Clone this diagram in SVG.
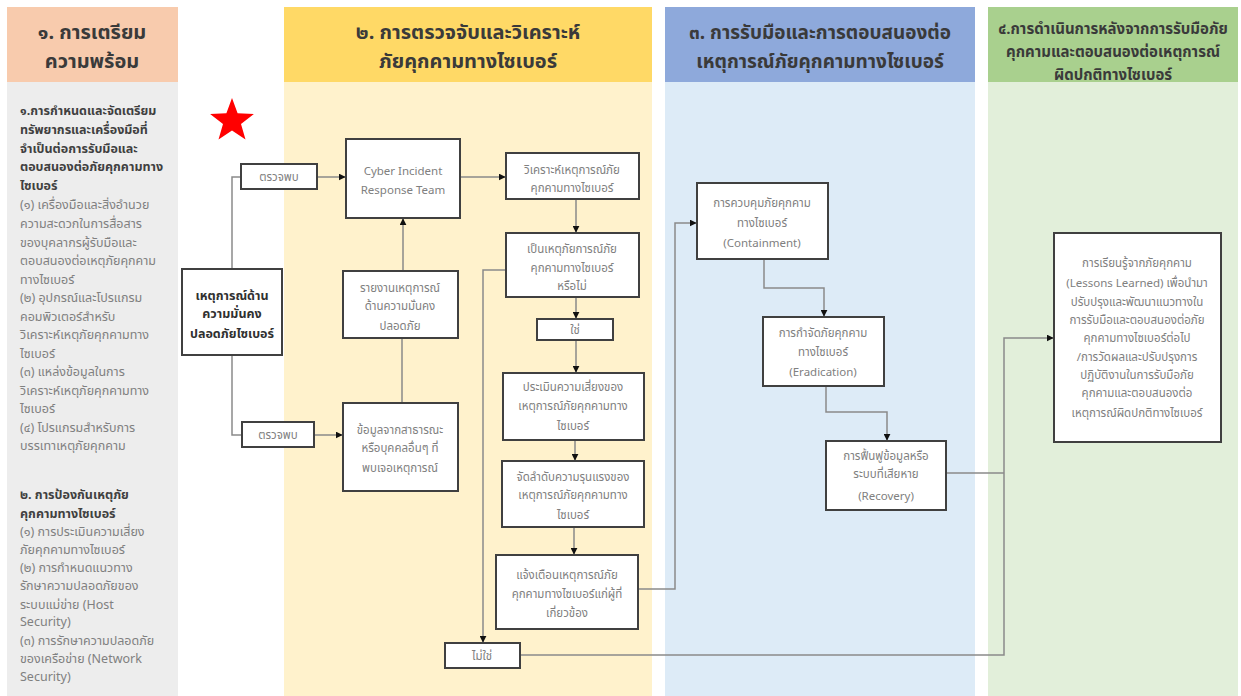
<svg xmlns="http://www.w3.org/2000/svg" width="1241" height="696" viewBox="0 0 1241 696">
<defs>
<marker id="arr" viewBox="0 0 10 10" refX="9" refY="5" markerWidth="7" markerHeight="7" markerUnits="userSpaceOnUse" orient="auto">
<path d="M0,0 L10,5 L0,10 z" fill="#111"/>
</marker>
<style>
.hdr{font-family:"Noto Sans Thai","Noto Sans","DejaVu Sans",sans-serif;font-weight:bold;fill:#3a3a3a;text-anchor:middle}
.side{font-family:"Noto Sans Thai","Noto Sans","DejaVu Sans",sans-serif;font-size:12.5px;fill:#808080}
.sideb{font-family:"Noto Sans Thai","Noto Sans","DejaVu Sans",sans-serif;font-size:12.5px;fill:#404040;font-weight:bold}
.box{fill:#fff;stroke:#404040;stroke-width:2}
.t{font-family:"Noto Sans Thai","Noto Sans","DejaVu Sans",sans-serif;font-size:11.5px;fill:#808080;text-anchor:middle}
.tb{font-family:"Noto Sans Thai","Noto Sans","DejaVu Sans",sans-serif;font-size:12.5px;fill:#303030;font-weight:bold;text-anchor:middle}
.c{fill:none;stroke:#8a8a8a;stroke-width:1.5}
.ca{fill:none;stroke:#8a8a8a;stroke-width:1.5;marker-end:url(#arr)}
</style>
</defs>
<rect width="1241" height="696" fill="#fff"/>
<g id="columns">
<rect x="7" y="82" width="171" height="614" fill="#EDEDED"/>
<rect x="7" y="7" width="171" height="75" fill="#F8CBAD"/>
<rect x="284" y="82" width="368" height="614" fill="#FFF2CC"/>
<rect x="284" y="7" width="368" height="75" fill="#FFD966"/>
<rect x="665" y="82" width="310" height="614" fill="#DDEBF7"/>
<rect x="665" y="7" width="310" height="75" fill="#8EA9DB"/>
<rect x="988" y="82" width="250" height="614" fill="#E2EFDA"/>
<rect x="988" y="7" width="250" height="75" fill="#A9D08E"/>
<text class="hdr" font-size="20" x="92" y="39">๑. การเตรียม</text>
<text class="hdr" font-size="20" x="92" y="68">ความพร้อม</text>
<text class="hdr" font-size="20" x="468" y="39">๒. การตรวจจับและวิเคราะห์</text>
<text class="hdr" font-size="20" x="468" y="68">ภัยคุกคามทางไซเบอร์</text>
<text class="hdr" font-size="19" x="820" y="39">๓. การรับมือและการตอบสนองต่อ</text>
<text class="hdr" font-size="19" x="820" y="68">เหตุการณ์ภัยคุกคามทางไซเบอร์</text>
<text class="hdr" font-size="15" x="1113" y="34">๔.การดำเนินการหลังจากการรับมือภัย</text>
<text class="hdr" font-size="15" x="1113" y="57">คุกคามและตอบสนองต่อเหตุการณ์</text>
<text class="hdr" font-size="15" x="1113" y="80">ผิดปกติทางไซเบอร์</text>
</g>
<g id="preparation-text">
<text class="sideb" x="20" y="115">๑.การกำหนดและจัดเตรียม</text>
<text class="sideb" x="20" y="134">ทรัพยากรและเครื่องมือที่</text>
<text class="sideb" x="20" y="153">จำเป็นต่อการรับมือและ</text>
<text class="sideb" x="20" y="171">ตอบสนองต่อภัยคุกคามทาง</text>
<text class="sideb" x="20" y="190">ไซเบอร์</text>
<text class="side" x="20" y="209">(๑) เครื่องมือและสิ่งอำนวย</text>
<text class="side" x="20" y="228">ความสะดวกในการสื่อสาร</text>
<text class="side" x="20" y="247">ของบุคลากรผู้รับมือและ</text>
<text class="side" x="20" y="265">ตอบสนองต่อเหตุภัยคุกคาม</text>
<text class="side" x="20" y="284">ทางไซเบอร์</text>
<text class="side" x="20" y="302">(๒) อุปกรณ์และโปรแกรม</text>
<text class="side" x="20" y="321">คอมพิวเตอร์สำหรับ</text>
<text class="side" x="20" y="339">วิเคราะห์เหตุภัยคุกคามทาง</text>
<text class="side" x="20" y="358">ไซเบอร์</text>
<text class="side" x="20" y="376">(๓) แหล่งข้อมูลในการ</text>
<text class="side" x="20" y="395">วิเคราะห์เหตุภัยคุกคามทาง</text>
<text class="side" x="20" y="413">ไซเบอร์</text>
<text class="side" x="20" y="432">(๔) โปรแกรมสำหรับการ</text>
<text class="side" x="20" y="450">บรรเทาเหตุภัยคุกคาม</text>
<text class="sideb" x="20" y="499">๒. การป้องกันเหตุภัย</text>
<text class="sideb" x="20" y="518">คุกคามทางไซเบอร์</text>
<text class="side" x="20" y="536">(๑) การประเมินความเสี่ยง</text>
<text class="side" x="20" y="554">ภัยคุกคามทางไซเบอร์</text>
<text class="side" x="20" y="572">(๒) การกำหนดแนวทาง</text>
<text class="side" x="20" y="590">รักษาความปลอดภัยของ</text>
<text class="side" x="20" y="609">ระบบแม่ข่าย (Host</text>
<text class="side" x="20" y="626" font-size="11">Security)</text>
<text class="side" x="20" y="645">(๓) การรักษาความปลอดภัย</text>
<text class="side" x="20" y="663">ของเครือข่าย (Network</text>
<text class="side" x="20" y="681" font-size="11">Security)</text>
</g>
<polygon id="star" points="232,98 237.6,113.3 253.9,113.9 241,123.9 245.5,139.6 232,130.5 218.5,139.6 223,123.9 210.1,113.9 226.4,113.3" fill="#FF0000"/>
<g id="connectors">
<polyline class="c" points="232,269 232,177 241,177"/>
<line class="ca" x1="317" y1="177" x2="345" y2="177"/>
<polyline class="c" points="232,355 232,435 242,435"/>
<line class="ca" x1="314" y1="435" x2="342" y2="435"/>
<line class="c" x1="402" y1="403" x2="402" y2="338"/>
<line class="ca" x1="403" y1="271" x2="403" y2="219"/>
<line class="ca" x1="460" y1="177" x2="505" y2="177"/>
<line class="ca" x1="576" y1="199" x2="576" y2="232"/>
<line class="ca" x1="576" y1="297" x2="576" y2="318"/>
<line class="ca" x1="576" y1="340" x2="576" y2="372"/>
<line class="ca" x1="575" y1="440" x2="575" y2="460"/>
<line class="ca" x1="574" y1="527" x2="574" y2="554"/>
<polyline class="ca" points="506,270 483,270 483,642"/>
<polyline class="ca" points="638,589 675,589 675,223 696,223"/>
<polyline class="ca" points="764,259 764,288 824,288 824,316"/>
<polyline class="ca" points="826,386 826,412 887,412 887,440"/>
<polyline class="c" points="946,473 1004,473"/>
<polyline class="ca" points="520,655 1004,655 1004,338 1053,338"/>
</g>
<g id="n-event">
<rect class="box" x="182" y="269" width="100" height="86"/>
<text class="tb" x="232" y="300">เหตุการณ์ด้าน</text>
<text class="tb" x="232" y="318">ความมั่นคง</text>
<text class="tb" x="232" y="338">ปลอดภัยไซเบอร์</text>
</g>
<g id="n-detect1">
<rect class="box" x="241" y="164" width="76" height="25"/>
<text class="t" x="279" y="181">ตรวจพบ</text>
</g>
<g id="n-detect2">
<rect class="box" x="242" y="422" width="72" height="25"/>
<text class="t" x="278" y="439">ตรวจพบ</text>
</g>
<g id="n-cirt">
<rect class="box" x="346" y="139" width="114" height="79"/>
<text class="t" x="403" y="175">Cyber Incident</text>
<text class="t" x="403" y="194">Response Team</text>
</g>
<g id="n-report">
<rect class="box" x="343" y="271" width="115" height="67"/>
<text class="t" x="400" y="292">รายงานเหตุการณ์</text>
<text class="t" x="400" y="310">ด้านความมั่นคง</text>
<text class="t" x="400" y="330">ปลอดภัย</text>
</g>
<g id="n-public">
<rect class="box" x="343" y="403" width="115" height="88"/>
<text class="t" x="400" y="434">ข้อมูลจากสาธารณะ</text>
<text class="t" x="400" y="452">หรือบุคคลอื่นๆ ที่</text>
<text class="t" x="400" y="472">พบเจอเหตุการณ์</text>
</g>
<g id="n-analyze">
<rect class="box" x="506" y="153" width="133" height="46"/>
<text class="t" x="572" y="174">วิเคราะห์เหตุการณ์ภัย</text>
<text class="t" x="572" y="192">คุกคามทางไซเบอร์</text>
</g>
<g id="n-isthreat">
<rect class="box" x="506" y="233" width="133" height="64"/>
<text class="t" x="572" y="253">เป็นเหตุภัยการณ์ภัย</text>
<text class="t" x="572" y="272">คุกคามทางไซเบอร์</text>
<text class="t" x="572" y="290">หรือไม่</text>
</g>
<g id="n-yes">
<rect class="box" x="537" y="319" width="76" height="21"/>
<text class="t" x="575" y="334">ใช่</text>
</g>
<g id="n-risk">
<rect class="box" x="503" y="373" width="141" height="67"/>
<text class="t" x="573" y="391">ประเมินความเสี่ยงของ</text>
<text class="t" x="573" y="410">เหตุการณ์ภัยคุกคามทาง</text>
<text class="t" x="573" y="430">ไซเบอร์</text>
</g>
<g id="n-priority">
<rect class="box" x="502" y="461" width="142" height="66"/>
<text class="t" x="573" y="481">จัดลำดับความรุนแรงของ</text>
<text class="t" x="573" y="499">เหตุการณ์ภัยคุกคามทาง</text>
<text class="t" x="573" y="519">ไซเบอร์</text>
</g>
<g id="n-notify">
<rect class="box" x="496" y="555" width="142" height="74"/>
<text class="t" x="567" y="579">แจ้งเตือนเหตุการณ์ภัย</text>
<text class="t" x="567" y="598">คุกคามทางไซเบอร์แก่ผู้ที่</text>
<text class="t" x="567" y="617">เกี่ยวข้อง</text>
</g>
<g id="n-no">
<rect class="box" x="445" y="643" width="75" height="25"/>
<text class="t" x="482" y="660">ไม่ใช่</text>
</g>
<g id="n-containment">
<rect class="box" x="697" y="183" width="131" height="76"/>
<text class="t" x="762" y="207">การควบคุมภัยคุกคาม</text>
<text class="t" x="762" y="227">ทางไซเบอร์</text>
<text class="t" x="762" y="247">(Containment)</text>
</g>
<g id="n-eradication">
<rect class="box" x="763" y="317" width="121" height="69"/>
<text class="t" x="823" y="337">การกำจัดภัยคุกคาม</text>
<text class="t" x="823" y="356">ทางไซเบอร์</text>
<text class="t" x="823" y="376">(Eradication)</text>
</g>
<g id="n-recovery">
<rect class="box" x="826" y="441" width="120" height="69"/>
<text class="t" x="886" y="460">การฟื้นฟูข้อมูลหรือ</text>
<text class="t" x="886" y="478">ระบบที่เสียหาย</text>
<text class="t" x="886" y="500">(Recovery)</text>
</g>
<g id="n-lessons">
<rect class="box" x="1054" y="233" width="167" height="209"/>
<text class="t" x="1137" y="267">การเรียนรู้จากภัยคุกคาม</text>
<text class="t" x="1137" y="287">(Lessons Learned) เพื่อนำมา</text>
<text class="t" x="1137" y="306">ปรับปรุงและพัฒนาแนวทางใน</text>
<text class="t" x="1137" y="324">การรับมือและตอบสนองต่อภัย</text>
<text class="t" x="1137" y="342">คุกคามทางไซเบอร์ต่อไป</text>
<text class="t" x="1137" y="361">/การวัดผลและปรับปรุงการ</text>
<text class="t" x="1137" y="379">ปฏิบัติงานในการรับมือภัย</text>
<text class="t" x="1137" y="397">คุกคามและตอบสนองต่อ</text>
<text class="t" x="1137" y="417">เหตุการณ์ผิดปกติทางไซเบอร์</text>
</g>
</svg>
